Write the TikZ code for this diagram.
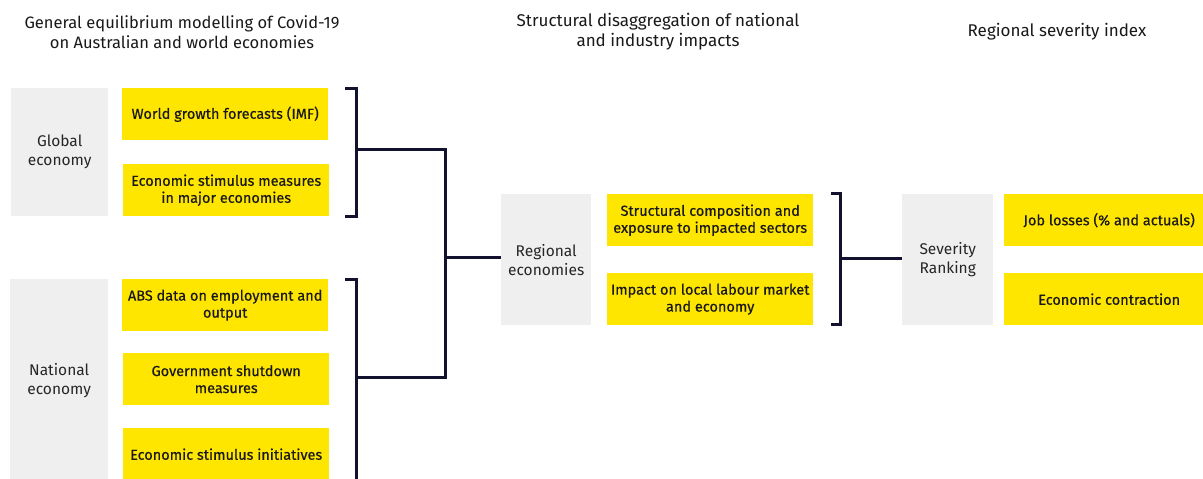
\documentclass[tikz,border=0pt]{standalone}
\usepackage{fontspec}
\setmainfont{Fira Sans}
\newfontfamily\medfont[FakeBold=0.5]{Fira Sans}
\definecolor{eyyellow}{HTML}{FFE600}
\definecolor{eygrey}{HTML}{EFEFEF}
\definecolor{eyline}{HTML}{12122E}
\begin{document}
\begin{tikzpicture}[x=1pt,y=-1pt,
  ybox/.style={fill=eyyellow, draw=none, anchor=north west, inner sep=0pt, align=center,
    font=\medfont\fontsize{14.5}{17}\selectfont, text=black!90},
  gbox/.style={fill=eygrey, draw=none, anchor=north west, inner sep=0pt, align=center,
    font=\fontsize{15.5}{19}\selectfont, text=black!85},
  title/.style={align=center, font=\fontsize{17}{20}\selectfont, text=black!90},
  conn/.style={draw=eyline, line width=3pt, line cap=butt, line join=miter}]
\clip (0,0) rectangle (1203,479);
\fill[white] (0,0) rectangle (1203,479);
% titles
\node[title, font=\fontsize{16.5}{20}\selectfont] (t1) at (182,32) {General equilibrium modelling of Covid-19\\on Australian and world economies};
\node[title] (t2) at (658,32) {Structural disaggregation of national\\and industry impacts};
\node[title] (t3) at (1057,32) {Regional severity index};
% global
\node[gbox, minimum width=97pt, minimum height=128pt] (glob) at (11,88) {Global\\economy};
\node[ybox, minimum width=206pt, minimum height=52pt] (wgf) at (122,88) {World growth forecasts (IMF)};
\node[ybox, minimum width=206pt, minimum height=52pt] (esm) at (123,164) {Economic stimulus measures\\in major economies};
% national
\node[gbox, minimum width=98pt, minimum height=202pt] (nat) at (10,279) {National\\economy};
\node[ybox, minimum width=206pt, minimum height=52pt] (abs) at (122,279) {ABS data on employment and\\output};
\node[ybox, minimum width=206pt, minimum height=52pt] (gov) at (123,353) {Government shutdown\\measures};
\node[ybox, minimum width=206pt, minimum height=52pt] (esi) at (123,428) {Economic stimulus initiatives};
% regional
\node[gbox, minimum width=90pt, minimum height=131pt] (reg) at (501,194) {Regional\\economies};
\node[ybox, minimum width=206pt, minimum height=52pt] (str) at (607,194) {Structural composition and\\exposure to impacted sectors};
\node[ybox, minimum width=206pt, minimum height=52pt] (imp) at (607,273) {Impact on local labour market\\and economy};
% severity
\node[gbox, minimum width=91pt, minimum height=131pt] (sev) at (902,194) {Severity\\Ranking};
\node[ybox, minimum width=210pt, minimum height=52pt] (job) at (1004,194) {Job losses (\% and actuals)};
\node[ybox, minimum width=210pt, minimum height=52pt] (eco) at (1004,273) {Economic contraction};
% bracket coordinates
\coordinate (b1t) at (345,88);
\coordinate (b1b) at (345,216);
\coordinate (b1m) at (356,149);
\coordinate (b2t) at (345,279);
\coordinate (b2b) at (345,520);
\coordinate (b2m) at (356,377);
\coordinate (jn2) at (445,377);
\coordinate (jmid) at (445,257);
\coordinate (b3t) at (831,193);
\coordinate (b3b) at (831,324);
\coordinate (b3m) at (840,258);
% connectors
\draw[conn] (b1t) -- ++(11,0) |- (b1b);
\draw[conn] (b2t) -- ++(11,0) |- (b2b);
\draw[conn] (b1m) -| (jn2) -- (b2m);
\draw[conn] (jmid) -- (reg.west |- jmid);
\draw[conn] (b3t) -- ++(9,0) |- (b3b);
\draw[conn] (b3m) -- (sev.west |- b3m);
\end{tikzpicture}
\end{document}
